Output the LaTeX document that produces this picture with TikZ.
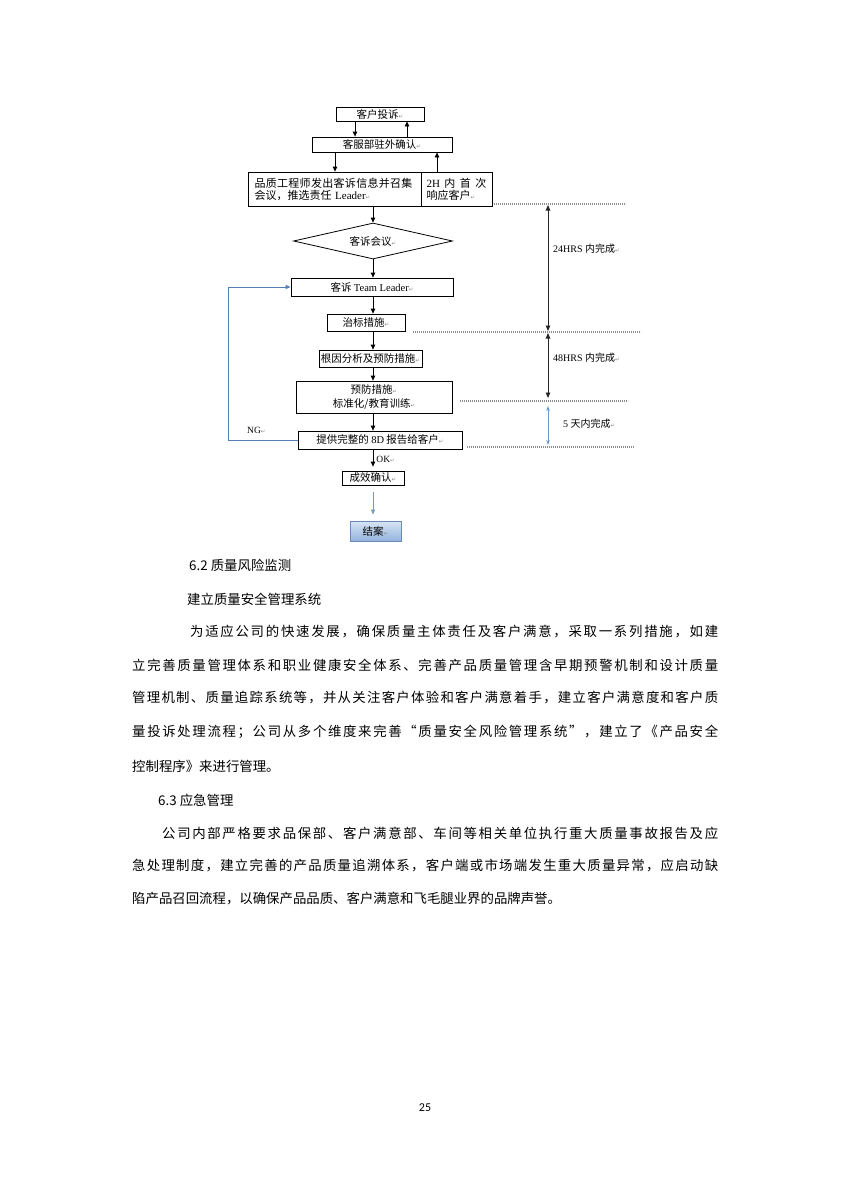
\documentclass[tikz,border=0pt]{standalone}
\usepackage{fontspec}
\setmainfont{Liberation Serif}
\newfontfamily\cjk{Noto Sans CJK SC}
\newfontfamily\djv{DejaVu Sans}
\newfontfamily\calib{Carlito}
\usetikzlibrary{arrows.meta,shapes.geometric}

\definecolor{fbblue}{RGB}{84,126,186}
\definecolor{lightarr}{RGB}{112,152,204}
\definecolor{endarr}{RGB}{122,150,192}
\definecolor{jtop}{RGB}{216,228,244}
\definecolor{jbot}{RGB}{148,180,222}
\definecolor{jborder}{RGB}{108,138,184}
\definecolor{dotgray}{RGB}{140,140,140}

\newcommand\retmark{{\djv\fontsize{5.5}{6}\selectfont\color{black!45}↵}}

\makeatletter
\def\sp@loop#1{\ifx#1\relax\else\hfil#1\expandafter\sp@loop\fi}
\def\sp@first#1{#1\sp@loop}
\newcommand\spreadline[2]{\hbox to #1{\sp@first#2\relax}}
\makeatother

\tikzset{
  box/.style={draw, line width=0.8pt, inner sep=0pt, font=\cjk\fontsize{10.5}{12}\selectfont},
  arr/.style={-{Triangle[length=5pt,width=4.5pt]}, line width=0.8pt},
  dbl/.style={{Triangle[length=5.5pt,width=4.5pt]}-{Triangle[length=5.5pt,width=4.5pt]}, line width=0.9pt, black!85},
  lblue/.style={{Stealth[length=5pt,width=3.5pt]}-{Stealth[length=5pt,width=3.5pt]}, line width=0.9pt, lightarr},
  dotline/.style={dotgray, line width=1.2pt, dash pattern=on 1.2pt off 0.8pt},
  lab/.style={anchor=west, inner sep=0pt, font=\fontsize{10}{12}\selectfont},
  body/.style={anchor=west, inner sep=0pt, font=\cjk\fontsize{13.4}{15}\selectfont},
}

\begin{document}
\begin{tikzpicture}[x=1pt,y=-1pt]
\fill[white] (0,0) rectangle (850,1202);
\useasboundingbox (0,0) rectangle (850,1202);

% column coordinates
\coordinate (colx) at (373,0);
\coordinate (fbx) at (228,0);
\coordinate (tx) at (548,0);

% flowchart nodes
\node[box, minimum width=88pt, minimum height=14pt] (n1) at (380,114) {客户投诉\retmark};
\node[box, minimum width=140pt, minimum height=15pt] (n2) at (382,144.5) {客服部驻外确认\retmark};
\node[box, text width=160pt, inner xsep=6.5pt, minimum height=34pt, align=left,
      font=\cjk\fontsize{11}{12}\selectfont] (n3l) at (334.5,189)
      {\spreadline{158pt}{品质工程师发出客诉信息并召集}\\会议，推选责任 {\rmfamily Leader}\retmark};
\node[box, text width=60pt, inner xsep=5.5pt, minimum height=34pt, align=left,
      font=\cjk\fontsize{11}{12}\selectfont] (n3r) at (456.5,189)
      {\hbox to 60pt{{\rmfamily 2H}\hfil 内\hfil 首\hfil 次}\\响应客户\retmark};
\node[box, diamond, aspect=4.4, minimum width=159pt, minimum height=36pt] (dia) at (373,241) {客诉会议\retmark};
\node[box, minimum width=162pt, minimum height=18pt] (n5) at (372,287) {客诉 {\rmfamily Team Leader}\retmark};
\node[box, minimum width=78pt, minimum height=17pt] (n6) at (366,322.5) {治标措施\retmark};
\node[box, minimum width=103pt, minimum height=17pt] (n7) at (370.5,358.5) {根因分析及预防措施\retmark};
\node[box, minimum width=156pt, minimum height=32pt, align=center,
      font=\cjk\fontsize{10.5}{14}\selectfont] (n8) at (374,397) {预防措施\retmark\\标准化/教育训练\retmark};
\node[box, minimum width=164pt, minimum height=18pt] (n9) at (380,440) {提供完整的 {\rmfamily 8D} 报告给客户\retmark};
\node[box, minimum width=62pt, minimum height=14pt] (n10) at (373,478) {成效确认\retmark};
\node[box, draw=jborder, top color=jtop, bottom color=jbot, minimum width=51pt, minimum height=20pt] (n11) at (375.5,531) {结案\retmark};

% top arrows
\draw[arr] (n1.south -| 355,0) -- (n2.north -| 355,0);
\draw[arr] (n2.north -| 407,0) -- (n1.south -| 407,0);
\draw[arr] (n2.south -| 335,0) -- (n3l.north -| 335,0);
\draw[arr] (n3r.north -| 437,0) -- (n2.south -| 437,0);

% main column arrows
\draw[arr] (n3l.south -| colx) -- (dia.north -| colx);
\draw[arr] (dia.south -| colx) -- (n5.north -| colx);
\draw[arr] (n5.south -| colx) -- (n6.north -| colx);
\draw[arr] (n6.south -| colx) -- (n7.north -| colx);
\draw[arr] (n7.south -| colx) -- (n8.north -| colx);
\draw[arr] (n8.south -| colx) -- (n9.north -| colx);
\draw[arr, shorten >=4pt] (n9.south -| colx) -- (n10.north -| colx)
   node[pos=0.45, anchor=west, inner sep=0pt, xshift=3pt, font=\fontsize{9.5}{11}\selectfont] (ok) {OK\retmark};
\draw[-{Triangle[length=5pt,width=4pt]}, line width=0.9pt, endarr, shorten <=7pt, shorten >=6pt]
   (n10.south -| colx) -- (n11.north -| colx);

% NG feedback
\draw[fbblue, line width=0.9pt, -{Triangle[length=5pt,width=4pt]}]
   (n9.west) -- (n9.west -| fbx) -- (n5.west -| fbx) -- (n5.west);
\node[anchor=west, inner sep=0pt, font=\fontsize{9.5}{11}\selectfont] (ng) at (247,430) {NG\retmark};

% dotted time lines
\coordinate (a1) at (494,204); \coordinate (b1) at (626,204);
\coordinate (a2) at (413,332); \coordinate (b2) at (641,332);
\coordinate (a3) at (460,401); \coordinate (b3) at (628,401);
\coordinate (a4) at (467,447); \coordinate (b4) at (634,447);
\draw[dotline] (a1) -- (b1);
\draw[dotline] (a2) -- (b2);
\draw[dotline] (a3) -- (b3);
\draw[dotline] (a4) -- (b4);

% time arrows
\draw[dbl, shorten <=1pt, shorten >=1pt] (a2 -| tx) -- (a1 -| tx);
\draw[dbl, shorten <=1pt, shorten >=3pt] (a2 -| tx) -- (a3 -| tx);
\draw[lblue, shorten <=5pt, shorten >=2pt] (a3 -| tx) -- (a4 -| tx);
\node[lab] (l24) at (553,249) {24HRS {\cjk 内完成}\retmark};
\node[lab] (l48) at (553,358) {48HRS {\cjk 内完成}\retmark};
\node[lab] (l5) at (563,424) {5 {\cjk 天内完成}\retmark};

% body text
\node[body] (t1) at (189,565) {6.2 质量风险监测};
\node[body] (t2) at (187,599) {建立质量安全管理系统};
\node[body] (p1) at (190,632) {\spreadline{528pt}{为适应公司的快速发展，确保质量主体责任及客户满意，采取一系列措施，如建}};
\node[body] (p2) at (132,665) {\spreadline{586pt}{立完善质量管理体系和职业健康安全体系、完善产品质量管理含早期预警机制和设计质量}};
\node[body] (p3) at (132,698) {\spreadline{586pt}{管理机制、质量追踪系统等，并从关注客户体验和客户满意着手，建立客户满意度和客户质}};
\node[body] (p4) at (132,732) {\spreadline{586pt}{量投诉处理流程；公司从多个维度来完善“质量安全风险管理系统”，建立了《产品安全}};
\node[body] (p5) at (132,766) {控制程序》来进行管理。};
\node[body] (t3) at (158,800) {6.3 应急管理};
\node[body] (q1) at (162,833) {\spreadline{556pt}{公司内部严格要求品保部、客户满意部、车间等相关单位执行重大质量事故报告及应}};
\node[body] (q2) at (132,866) {\spreadline{586pt}{急处理制度，建立完善的产品质量追溯体系，客户端或市场端发生重大质量异常，应启动缺}};
\node[body] (q3) at (132,899) {陷产品召回流程，以确保产品品质、客户满意和飞毛腿业界的品牌声誉。};

\node[inner sep=0pt, font=\calib\fontsize{12}{14}\selectfont] (pg) at (425,1108) {25};
\end{tikzpicture}
\end{document}
